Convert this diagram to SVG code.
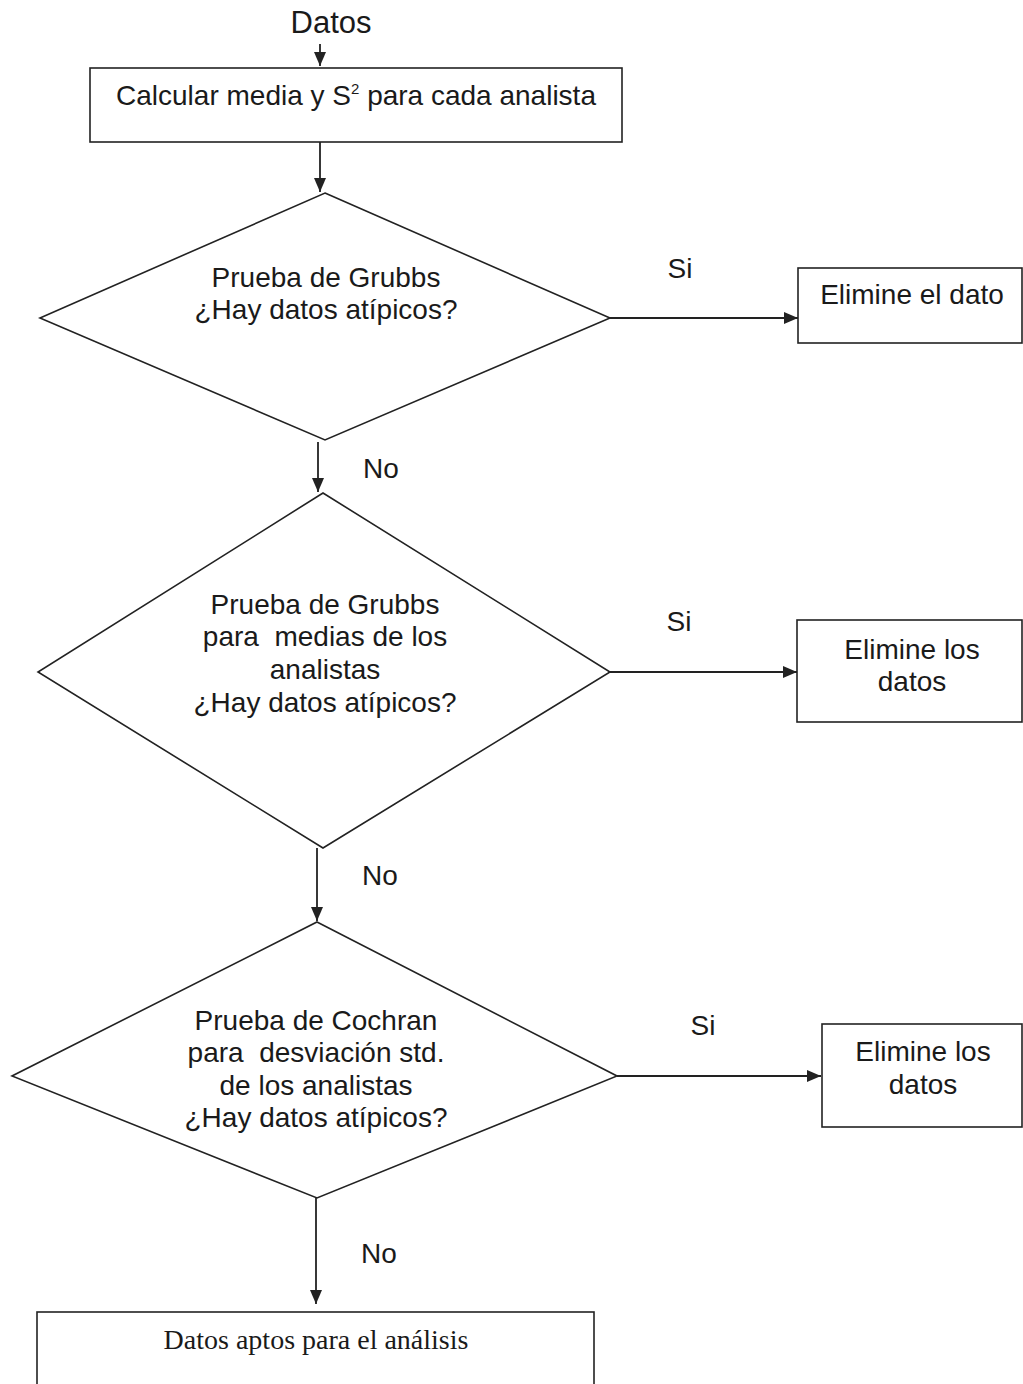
<svg xmlns="http://www.w3.org/2000/svg" width="1023" height="1384" viewBox="0 0 1023 1384">
<defs>
<marker id="ah" viewBox="0 0 14 12" refX="14" refY="6" markerWidth="14" markerHeight="12" orient="auto" markerUnits="userSpaceOnUse">
<path d="M0,0 L14,6 L0,12 Z" fill="#222"/>
</marker>
<style>
.shape{fill:#fff;stroke:#222;stroke-width:1.6}
.edge{fill:none;stroke:#222;stroke-width:1.8;marker-end:url(#ah)}
.t{font-family:"Liberation Sans",Arial,sans-serif;font-size:28px;fill:#1a1a1a;text-anchor:middle}
.s{font-family:"Liberation Serif","Times New Roman",serif;font-size:28px;fill:#1a1a1a;text-anchor:middle}
</style>
</defs>
<rect width="1023" height="1384" fill="#fff"/>
<g id="connectors">
<line class="edge" x1="320" y1="44" x2="320" y2="66"/>
<line class="edge" x1="320" y1="142" x2="320" y2="192"/>
<line class="edge" x1="610" y1="318" x2="798" y2="318"/>
<line class="edge" x1="318" y1="442" x2="318" y2="492"/>
<line class="edge" x1="610" y1="672" x2="797" y2="672"/>
<line class="edge" x1="317" y1="848" x2="317" y2="921"/>
<line class="edge" x1="617" y1="1076" x2="821" y2="1076"/>
<line class="edge" x1="316" y1="1198" x2="316" y2="1304"/>
<text class="t" x="680" y="278">Si</text>
<text class="t" x="381" y="478">No</text>
<text class="t" x="679" y="631">Si</text>
<text class="t" x="380" y="885">No</text>
<text class="t" x="703" y="1035">Si</text>
<text class="t" x="379" y="1263">No</text>
</g>
<g id="start">
<text class="t" x="331" y="33" style="font-size:31px">Datos</text>
</g>
<g id="calc">
<rect class="shape" x="90" y="68" width="532" height="74"/>
<text class="t" x="356" y="105">Calcular media y S<tspan dy="-11" style="font-size:15px">2</tspan><tspan dy="11"> para cada analista</tspan></text>
</g>
<g id="grubbs1">
<polygon class="shape" points="325,193 610,318 325,440 40,318"/>
<text class="t" x="326" y="287">Prueba de Grubbs</text>
<text class="t" x="326" y="319">¿Hay datos atípicos?</text>
</g>
<g id="elim1">
<rect class="shape" x="798" y="268" width="224" height="75"/>
<text class="t" x="912" y="304">Elimine el dato</text>
</g>
<g id="grubbs2">
<polygon class="shape" points="323,493 610,672 323,848 38,672"/>
<text class="t" x="325" y="614">Prueba de Grubbs</text>
<text class="t" x="325" y="646" xml:space="preserve">para  medias de los</text>
<text class="t" x="325" y="679">analistas</text>
<text class="t" x="325" y="712">¿Hay datos atípicos?</text>
</g>
<g id="elim2">
<rect class="shape" x="797" y="620" width="225" height="102"/>
<text class="t" x="912" y="659">Elimine los</text>
<text class="t" x="912" y="691">datos</text>
</g>
<g id="cochran">
<polygon class="shape" points="317,922 617,1076 317,1198 12,1076"/>
<text class="t" x="316" y="1030">Prueba de Cochran</text>
<text class="t" x="316" y="1062" xml:space="preserve">para  desviación std.</text>
<text class="t" x="316" y="1095">de los analistas</text>
<text class="t" x="316" y="1127">¿Hay datos atípicos?</text>
</g>
<g id="elim3">
<rect class="shape" x="822" y="1024" width="200" height="103"/>
<text class="t" x="923" y="1061">Elimine los</text>
<text class="t" x="923" y="1094">datos</text>
</g>
<g id="final">
<rect class="shape" x="37" y="1312" width="557" height="90"/>
<text class="s" x="316" y="1349">Datos aptos para el análisis</text>
</g>
</svg>
